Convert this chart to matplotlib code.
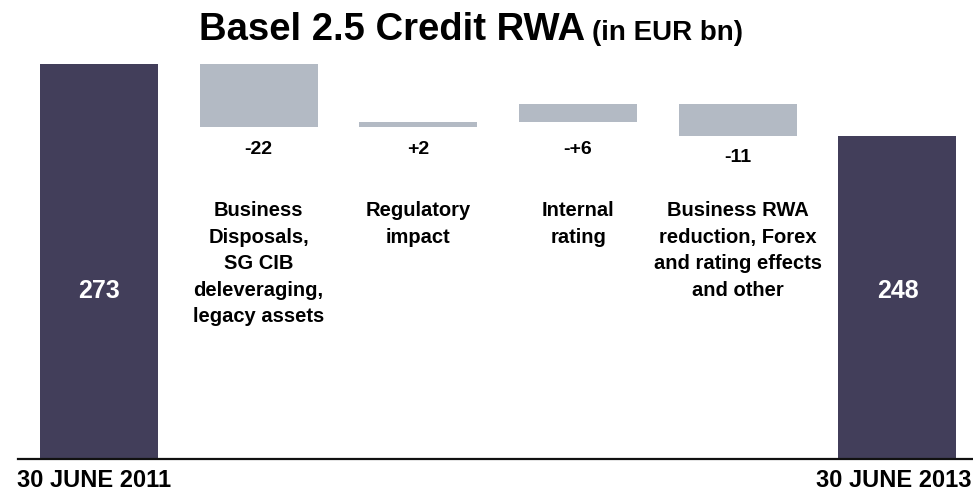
import matplotlib
matplotlib.use("Agg")
import matplotlib.pyplot as plt

plt.rcParams['font.family'] = ['Liberation Sans', 'DejaVu Sans']

# data (EUR bn)
start_value = 273
end_value = 248
deltas = [-22, 2, 6, -11]
delta_labels = ['-22', '+2', '-+6', '-11']
categories = [
    'Business\nDisposals,\nSG CIB\ndeleveraging,\nlegacy assets',
    'Regulatory\nimpact',
    'Internal\nrating',
    'Business RWA\nreduction, Forex\nand rating effects\nand other',
]
start_label = '30 JUNE 2011'
end_label = '30 JUNE 2013'

dark = '#423E5A'
light = '#B3BAC4'

fig = plt.figure(figsize=(9.73, 4.91), dpi=100)
ax = fig.add_axes([18 / 973, 32 / 491, 1 - 18 / 973, 395 / 491])
ax.set_xlim(-0.507, 5.473)
ax.set_ylim(135.8, 273)
w = 0.739
xt = ax.get_xaxis_transform()

# start bar
ax.bar(0, start_value - 135.8, bottom=135.8, width=w, color=dark)
ax.text(0, 0.425, str(start_value), transform=xt,
        ha='center', va='center', color='white', fontsize=18, fontweight='bold')

level = start_value
for i, d in enumerate(deltas):
    x = i + 1
    bot = min(level, level + d)
    ax.bar(x, abs(d), bottom=bot, width=w, color=light)
    ax.text(x, min(bot - 9.2, 241.8), delta_labels[i], ha='center', va='baseline',
            fontsize=14, fontweight='bold', color='black')
    ax.text(x, 0.652, categories[i], transform=xt,
            ha='center', va='top', fontsize=14.5, fontweight='bold',
            linespacing=1.5, color='black')
    level += d

# end bar
ax.bar(5, end_value - 135.8, bottom=135.8, width=w, color=dark)
ax.text(5, 0.425, str(end_value), transform=xt,
        ha='center', va='center', color='white', fontsize=18, fontweight='bold')

for s in ['top', 'left', 'right']:
    ax.spines[s].set_visible(False)
ax.spines['bottom'].set_linewidth(1.6)
ax.spines['bottom'].set_color('#111111')
ax.set_xticks([])
ax.set_yticks([])

fig.text(17 / 973, 4 / 491, start_label, ha='left', va='baseline',
         fontsize=17, fontweight='bold')
fig.text(972 / 973, 4 / 491, end_label, ha='right', va='baseline',
         fontsize=17, fontweight='bold')

# title in two sizes, centred as a group
t1 = fig.text(0, (491 - 40) / 491, 'Basel 2.5 Credit RWA', ha='left', va='baseline',
              fontsize=27.5, fontweight='bold')
t2 = fig.text(0, (491 - 40) / 491, '(in EUR bn)', ha='left', va='baseline',
              fontsize=20, fontweight='bold')
fig.canvas.draw()
r = fig.canvas.get_renderer()
w1 = t1.get_window_extent(r).width
w2 = t2.get_window_extent(r).width
gap = 6
x0 = 471 - (w1 + gap + w2) / 2
t1.set_x(x0 / 973)
t2.set_x((x0 + w1 + gap) / 973)

fig.savefig('out.png', dpi=100)
